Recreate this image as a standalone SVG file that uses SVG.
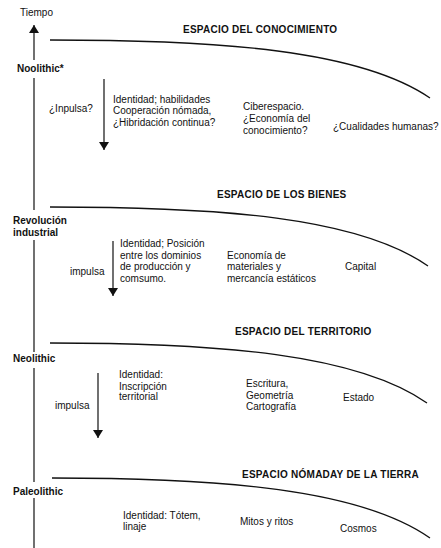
<svg xmlns="http://www.w3.org/2000/svg" width="441" height="548" viewBox="0 0 441 548">
<style>
text{font-family:"Liberation Sans",Arial,sans-serif;font-size:10px;fill:#111}
.b{font-weight:bold}
.h{font-weight:bold;letter-spacing:0.25px}
.ln{stroke:#111;stroke-width:1.2;fill:none}
.cv{stroke:#111;stroke-width:1.3;fill:none}
</style>
<defs>
<marker id="ah" viewBox="0 0 8 10" refX="8" refY="5" markerWidth="8" markerHeight="10" markerUnits="userSpaceOnUse" orient="auto">
<path d="M0,0 L8,5 L0,10 Z" fill="#111"/>
</marker>
</defs>
<rect width="441" height="548" fill="#fff"/>
<g id="connectors">
<line class="ln" x1="34" y1="60" x2="34" y2="25" marker-end="url(#ah)"/>
<line class="ln" x1="34" y1="78" x2="34" y2="210"/>
<line class="ln" x1="34" y1="240" x2="34" y2="352"/>
<line class="ln" x1="34" y1="368" x2="34" y2="482"/>
<line class="ln" x1="34" y1="498" x2="34" y2="548"/>
<line class="ln" x1="104" y1="79" x2="104" y2="150" marker-end="url(#ah)"/>
<line class="ln" x1="113" y1="241" x2="113" y2="296" marker-end="url(#ah)"/>
<line class="ln" x1="98" y1="373" x2="98" y2="438" marker-end="url(#ah)"/>
<path class="cv" d="M50,40 C220,40 360,50 430,98"/>
<path class="cv" d="M50,207 C220,207 358,217 428,266"/>
<path class="cv" d="M50,343 C220,343 357,354 427,403"/>
<path class="cv" d="M52,478 C222,478 360,489 430,538"/>
</g>
<g id="axis-labels">
<text x="20" y="16">Tiempo</text>
<text class="b" x="17" y="72">Noolithic*</text>
<text class="b" x="13" y="224">Revolución</text>
<text class="b" x="13" y="236">industrial</text>
<text class="b" x="13" y="362">Neolithic</text>
<text class="b" x="13" y="495">Paleolithic</text>
</g>
<g id="espacio-conocimiento">
<text class="h" x="183" y="33">ESPACIO DEL CONOCIMIENTO</text>
<text x="49" y="112">¿Inpulsa?</text>
<text x="113" y="103">Identidad; habilidades</text>
<text x="113" y="114">Cooperación nómada,</text>
<text x="113" y="126">¿Hibridación continua?</text>
<text x="243" y="110">Ciberespacio.</text>
<text x="243" y="122">¿Economía del</text>
<text x="243" y="134">conocimiento?</text>
<text x="333" y="130">¿Cualidades humanas?</text>
</g>
<g id="espacio-bienes">
<text class="h" x="217" y="198">ESPACIO DE LOS BIENES</text>
<text x="70" y="275">impulsa</text>
<text x="120" y="247">Identidad; Posición</text>
<text x="120" y="259">entre los dominios</text>
<text x="120" y="270">de producción y</text>
<text x="120" y="282">comsumo.</text>
<text x="227" y="259">Economía de</text>
<text x="227" y="270">materiales y</text>
<text x="227" y="282">mercancía estáticos</text>
<text x="345" y="270">Capital</text>
</g>
<g id="espacio-territorio">
<text class="h" x="235" y="335">ESPACIO DEL TERRITORIO</text>
<text x="55" y="409">impulsa</text>
<text x="119" y="378">Identidad:</text>
<text x="119" y="390">Inscripción</text>
<text x="119" y="400">territorial</text>
<text x="246" y="387">Escritura,</text>
<text x="246" y="399">Geometría</text>
<text x="246" y="410">Cartografía</text>
<text x="343" y="401">Estado</text>
</g>
<g id="espacio-nomada">
<text class="h" x="242" y="478">ESPACIO NÓMADAY DE LA TIERRA</text>
<text x="123" y="519">Identidad: Tótem,</text>
<text x="123" y="530">linaje</text>
<text x="240" y="525">Mitos y ritos</text>
<text x="340" y="532">Cosmos</text>
</g>
</svg>
